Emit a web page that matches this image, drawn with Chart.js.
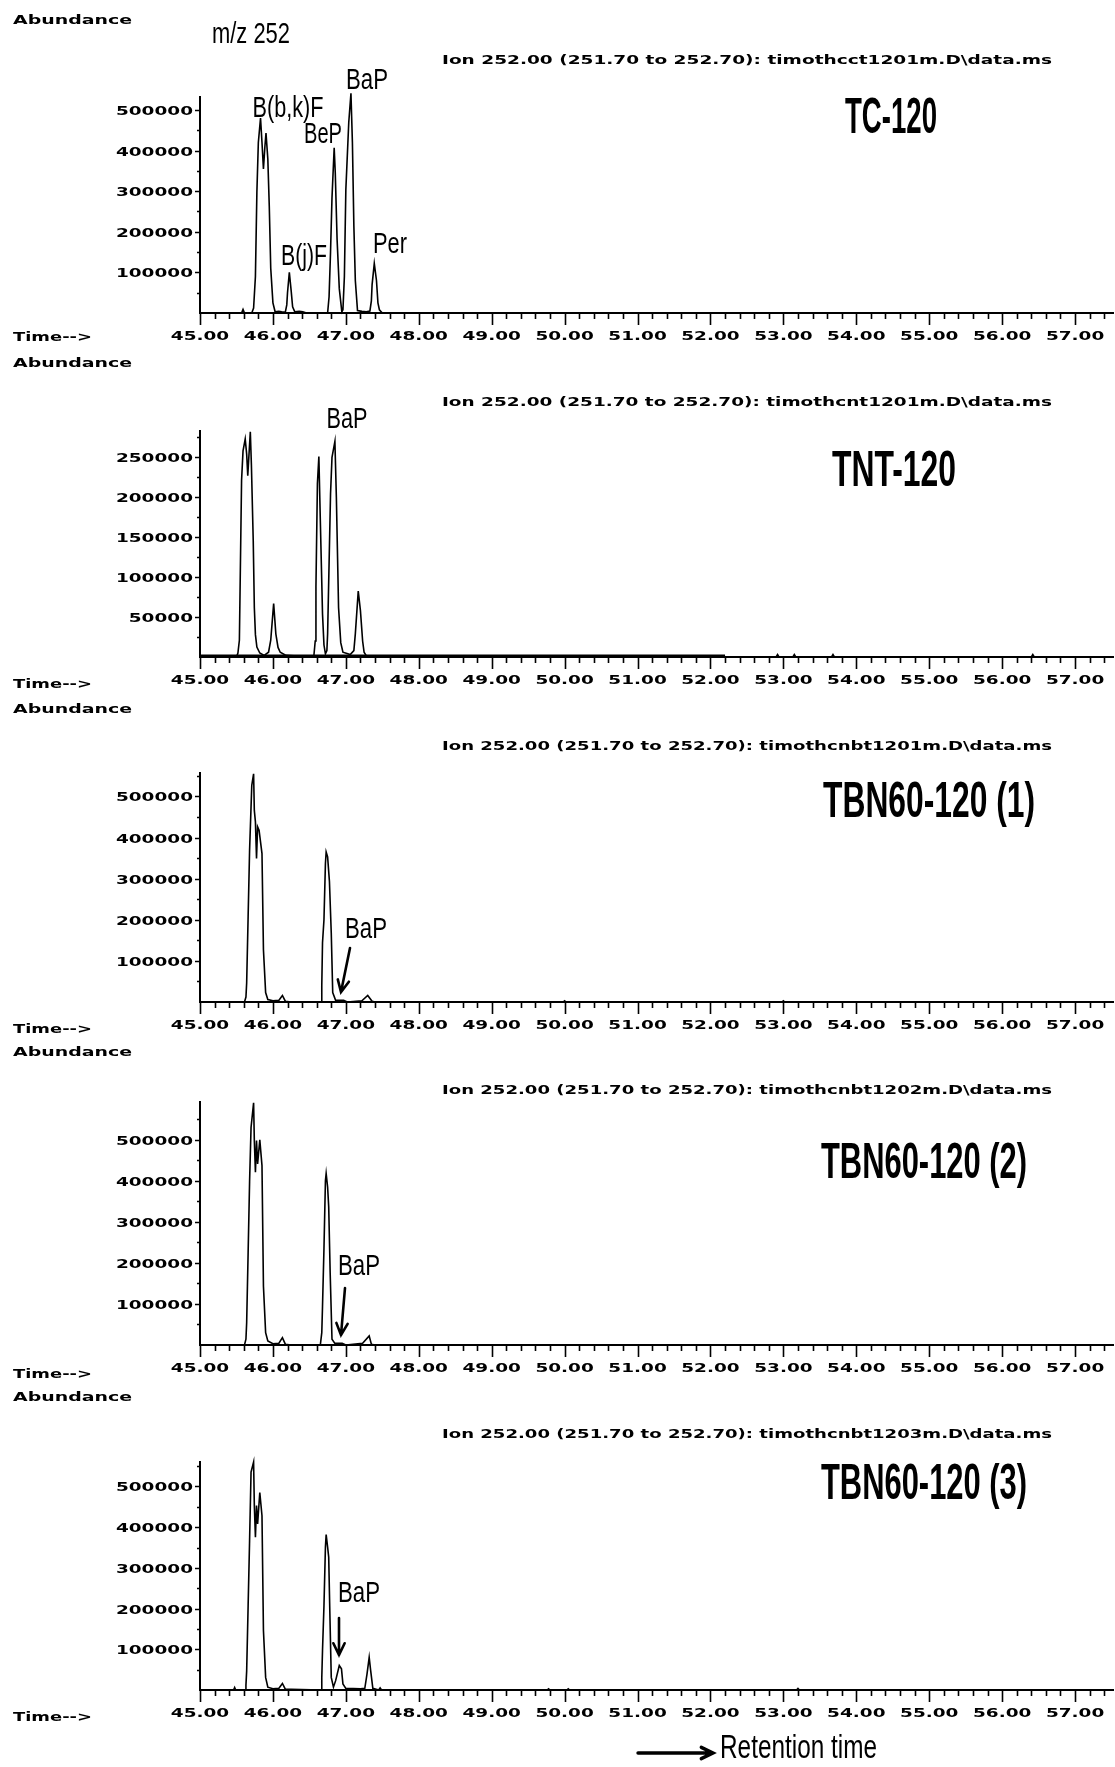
<!DOCTYPE html>
<html>
<head>
<meta charset="utf-8">
<script src="https://cdn.jsdelivr.net/npm/chart.js@4.4.1/dist/chart.umd.min.js"></script>
<style>
  html, body { margin: 0; padding: 0; background: #fff; }
  #page { position: relative; width: 1115px; height: 1767px; overflow: hidden; background: #fff; }
  #page canvas { position: absolute; left: 0; }
  #overlay { top: 0; pointer-events: none; }
</style>
</head>
<body>
<div id="page">
  <canvas id="c0"></canvas>
  <canvas id="c1"></canvas>
  <canvas id="c2"></canvas>
  <canvas id="c3"></canvas>
  <canvas id="c4"></canvas>
  <canvas id="overlay" width="1115" height="1767"></canvas>
</div>
<script>
/* ============================================================
   DATA — ion 252 chromatograms (time in min, abundance)
============================================================ */
const sampleNames = ['TC-120', 'TNT-120', 'TBN60-120 (1)', 'TBN60-120 (2)', 'TBN60-120 (3)'];
const dataFiles = ['timothcct1201m.D', 'timothcnt1201m.D', 'timothcnbt1201m.D', 'timothcnbt1202m.D', 'timothcnbt1203m.D'];

const xTickLabels = ['45.00', '46.00', '47.00', '48.00', '49.00', '50.00', '51.00', '52.00', '53.00', '54.00', '55.00', '56.00', '57.00'];
const yTicksTC  = [100000, 200000, 300000, 400000, 500000];
const yTicksTNT = [50000, 100000, 150000, 200000, 250000];
const yTicksTBN = [100000, 200000, 300000, 400000, 500000];

// TC-120
const timesTC = [45.00, 45.57, 45.59, 45.61, 45.71, 45.735, 45.76, 45.78, 45.80, 45.83, 45.85, 45.87, 45.89, 45.905, 45.93, 45.95, 45.97, 46.00, 46.03, 46.08, 46.12, 46.17,
  46.19, 46.20, 46.225, 46.25, 46.27, 46.30, 46.36, 46.41, 46.46, 46.75, 46.77, 46.79, 46.81, 46.84, 46.855, 46.88, 46.91, 46.945, 46.96, 46.98, 47.00, 47.04, 47.07, 47.09,
  47.11, 47.13, 47.16, 47.22, 47.28, 47.33, 47.35, 47.36, 47.39, 47.42, 47.44, 47.46, 47.50, 57.52];
const abundTC = [0, 0, 9000, 0, 0, 12000, 90000, 297000, 420000, 480000, 420000, 355000, 410000, 443000, 380000, 263000, 110000, 25000, 3000, 4000, 3000, 2000,
  20000, 50000, 100000, 55000, 15000, 3000, 4000, 3000, 0, 0, 40000, 150000, 284000, 407000, 345000, 181000, 60000, 3000, 8000, 90000, 304000, 470000, 541000, 420000,
  214000, 80000, 6000, 4000, 3000, 5000, 30000, 70000, 122000, 80000, 25000, 8000, 0, 0];

// TNT-120
const timesTNT = [45.00, 45.50, 45.52, 45.54, 45.57, 45.59, 45.62, 45.64, 45.655, 45.69, 45.705, 45.73, 45.745, 45.76, 45.78, 45.82, 45.88, 45.94, 45.97, 46.01, 46.04, 46.07, 46.10, 46.18,
  46.56, 46.58, 46.59, 46.61, 46.63, 46.65, 46.68, 46.70, 46.72, 46.74, 46.75, 46.79, 46.81, 46.85, 46.87, 46.90, 46.93, 46.96, 47.06, 47.11, 47.13, 47.17, 47.20, 47.23, 47.25, 47.29,
  52.90, 52.92, 52.94, 53.13, 53.15, 53.17, 53.66, 53.68, 53.70, 56.40, 56.42, 56.44, 57.52];
const abundTNT = [0, 0, 5000, 21000, 221000, 258000, 273000, 254000, 227000, 282000, 240000, 146000, 62000, 28000, 12500, 5000, 2000, 6000, 21000, 67000, 29000, 12000, 6000, 2000,
  0, 20000, 87500, 217000, 251000, 171000, 54000, 15000, 4000, 8000, 29000, 204000, 250000, 270000, 200000, 62000, 18000, 6000, 3000, 8000, 29000, 82500, 58000, 20000, 6000, 0,
  0, 3000, 0, 0, 3000, 0, 0, 3000, 0, 0, 3000, 0, 0];
// dense baseline noise band of TNT-120
const timesTNTNoise = [45.00, 52.20];
const abundTNTNoise = [1200, 1200];

// TBN60-120 (1)
const timesTBN1 = [45.00, 45.61, 45.63, 45.64, 45.66, 45.68, 45.71, 45.735, 45.745, 45.76, 45.775, 45.79, 45.81, 45.85, 45.87, 45.90, 45.93, 46.00, 46.08, 46.13, 46.17,
  46.25, 46.66, 46.67, 46.68, 46.70, 46.72, 46.73, 46.75, 46.775, 46.80, 46.82, 46.86, 46.97, 47.02, 47.22, 47.30, 47.36, 47.40,
  49.98, 50.00, 50.02, 52.98, 53.00, 53.02, 57.52];
const abundTBN1 = [0, 0, 12000, 47000, 208000, 369000, 527000, 555000, 466000, 438000, 349000, 426000, 418000, 361000, 127000, 23000, 6000, 3000, 4000, 16000, 2000,
  0, 0, 40000, 144000, 200000, 337000, 365000, 353000, 293000, 168000, 23000, 4000, 4000, 0, 3000, 16000, 2000, 0,
  0, 3000, 0, 0, 3000, 0, 0];

// TBN60-120 (2)
const timesTBN2 = [45.00, 45.61, 45.63, 45.64, 45.66, 45.68, 45.70, 45.735, 45.745, 45.76, 45.775, 45.79, 45.82, 45.85, 45.87, 45.90, 45.93, 46.00, 46.08, 46.13, 46.17,
  46.25, 46.65, 46.67, 46.68, 46.70, 46.72, 46.73, 46.75, 46.765, 46.785, 46.81, 46.85, 46.95, 47.00, 47.23, 47.32, 47.35, 47.40, 57.52];
const abundTBN2 = [0, 0, 14000, 55000, 225000, 398000, 530000, 590000, 498000, 421000, 498000, 441000, 500000, 437000, 143000, 30000, 10000, 3000, 4000, 18000, 2000,
  0, 0, 30000, 94000, 235000, 400000, 418000, 385000, 336000, 176000, 14000, 4000, 4000, 0, 4000, 22000, 2000, 0, 0];

// TBN60-120 (3)
const timesTBN3 = [45.00, 45.46, 45.475, 45.49, 45.62, 45.63, 45.64, 45.66, 45.68, 45.70, 45.735, 45.745, 45.76, 45.775, 45.79, 45.82, 45.85, 45.87, 45.90, 45.93, 46.00,
  46.08, 46.13, 46.17, 46.25, 46.66, 46.67, 46.68, 46.70, 46.72, 46.73, 46.75, 46.765, 46.78, 46.80, 46.83, 46.86, 46.91, 46.94, 46.96, 47.00, 47.20,
  47.26, 47.29, 47.32, 47.34, 47.37, 47.45, 47.47, 47.49, 49.76, 49.78, 49.80, 50.03, 50.05, 50.07, 53.18, 53.20, 53.22, 57.52];
const abundTBN3 = [0, 0, 6000, 0, 0, 12000, 47000, 207000, 367000, 535000, 560000, 453000, 375000, 453000, 408000, 485000, 428000, 146000, 31000, 7000, 3000,
  4000, 16000, 2000, 2000, 0, 30000, 97000, 207000, 351000, 382000, 351000, 326000, 195000, 31000, 7000, 23000, 60000, 52000, 15000, 4000, 3000,
  4000, 39000, 80000, 48000, 4000, 0, 5000, 0, 0, 3000, 0, 0, 3000, 0, 0, 4000, 0, 0];

/* ============================================================
   LAYOUT
============================================================ */
const CHEM_FONT = 'bold 13px "DejaVu Sans"';
const CHEM_SX = 1.42;
const X_MIN = 45, X_MAX = 57.52;

const panels = [
  { id: 'c0', times: timesTC,   values: abundTC,   yMax: 532000, yTicks: yTicksTC,  top: 97,   base: 313 },
  { id: 'c1', times: timesTNT,  values: abundTNT,  yMax: 283000, yTicks: yTicksTNT, top: 431,  base: 657,
    noiseT: timesTNTNoise, noiseV: abundTNTNoise },
  { id: 'c2', times: timesTBN1, values: abundTBN1, yMax: 557000, yTicks: yTicksTBN, top: 773,  base: 1002 },
  { id: 'c3', times: timesTBN2, values: abundTBN2, yMax: 592000, yTicks: yTicksTBN, top: 1102, base: 1345 },
  { id: 'c4', times: timesTBN3, values: abundTBN3, yMax: 560000, yTicks: yTicksTBN, top: 1462, base: 1690 },
];

// 横に引き伸ばした文字（ChemStation風）
function stretchText(ctx, text, x, y, font, sx, align) {
  ctx.save();
  ctx.font = font;
  ctx.textAlign = align || 'left';
  ctx.textBaseline = 'alphabetic';
  ctx.translate(x, y);
  ctx.scale(sx, 1);
  ctx.fillText(text, 0, 0);
  ctx.restore();
}
function fitText(ctx, text, x, y, font, w, align) {
  ctx.font = font;
  const sx = w / ctx.measureText(text).width;
  stretchText(ctx, text, x, y, font, sx, align);
}

// ── 目盛り（主・副）と目盛りラベル ──
const chemAxes = (p) => ({
  id: 'chemAxes',
  afterDraw(chart) {
    const { ctx, chartArea: ca, scales: { x: xs, y: ys } } = chart;
    ctx.save();
    ctx.strokeStyle = '#000';
    ctx.fillStyle = '#000';
    ctx.lineWidth = 1.6;
    ctx.beginPath();
    for (let k = 0; k <= 62; k++) {
      const v = X_MIN + k * 0.2;
      const px = Math.round(xs.getPixelForValue(v)) + 0.5;
      const len = k % 5 === 0 ? 12 : 6;
      ctx.moveTo(px, ca.bottom);
      ctx.lineTo(px, ca.bottom + len);
    }
    const step = p.yTicks[1] - p.yTicks[0];
    const yMarks = [];
    p.yTicks.forEach(v => { yMarks.push([v, 5]); yMarks.push([v - step / 2, 3]); });
    const last = p.yTicks[p.yTicks.length - 1] + step / 2;
    if (last < p.yMax) yMarks.push([last, 3]);
    yMarks.forEach(([v, len]) => {
      const py = Math.round(ys.getPixelForValue(v)) + 0.5;
      ctx.moveTo(ca.left - len, py);
      ctx.lineTo(ca.left, py);
    });
    ctx.stroke();

    xTickLabels.forEach(lab => {
      const px = xs.getPixelForValue(parseFloat(lab));
      stretchText(ctx, lab, px, ca.bottom + 27, CHEM_FONT, CHEM_SX, 'center');
    });
    p.yTicks.forEach(v => {
      const py = ys.getPixelForValue(v);
      stretchText(ctx, String(v), ca.left - 7, py + 5, CHEM_FONT, CHEM_SX, 'right');
    });
    ctx.restore();
  }
});

const PAD_TOP = 14, X_H = 44;
panels.forEach(p => {
  const cv = document.getElementById(p.id);
  cv.width = 1115;
  cv.height = p.base - p.top + PAD_TOP + X_H;
  cv.style.top = (p.top - PAD_TOP) + 'px';
  const datasets = [{
    data: p.times.map((t, i) => ({ x: t, y: p.values[i] })),
    borderColor: '#000', borderWidth: 1.6, pointRadius: 0, tension: 0, fill: false, clip: false
  }];
  if (p.noiseT) {
    datasets.push({
      data: p.noiseT.map((t, i) => ({ x: t, y: p.noiseV[i] })),
      borderColor: '#000', borderWidth: 3.2, pointRadius: 0, tension: 0, fill: false
    });
  }
  const axisOpts = {
    grid: { display: true, drawOnChartArea: false, drawTicks: false, color: 'rgba(0,0,0,0)' },
    border: { display: true, color: '#000', width: 2 },
    ticks: { display: false }
  };
  new Chart(cv, {
    type: 'line',
    data: { datasets },
    options: {
      responsive: false, animation: false, devicePixelRatio: 1,
      layout: { padding: { top: PAD_TOP, left: 0, right: 2, bottom: 0 } },
      plugins: { legend: { display: false }, tooltip: { enabled: false } },
      scales: {
        x: { type: 'linear', min: X_MIN, max: X_MAX, afterFit: s => { s.height = X_H; }, ...axisOpts },
        y: { type: 'linear', min: 0, max: p.yMax, afterFit: s => { s.width = 200; }, ...axisOpts }
      }
    },
    plugins: [chemAxes(p)]
  });
});

/* ============================================================
   OVERLAY TEXT — 見出し・ピーク名・矢印
============================================================ */
const ov = document.getElementById('overlay').getContext('2d');
ov.fillStyle = '#000';
ov.strokeStyle = '#000';

const abundanceY = [19, 362, 708, 1051, 1396];
const timeY = [336, 683, 1028, 1373, 1716];
const headerY = [59, 401, 745, 1089, 1433];
const titlePos = [[891, 115, 92], [894, 468, 124], [929, 799, 212], [924, 1160, 206], [924, 1481, 206]];

for (let i = 0; i < 5; i++) {
  fitText(ov, 'Abundance', 13, abundanceY[i] + 5, CHEM_FONT, 119);
  fitText(ov, 'Time-->', 13, timeY[i] + 5, CHEM_FONT, 79);
  fitText(ov, 'Ion 252.00 (251.70 to 252.70): ' + dataFiles[i] + '\\data.ms', 442, headerY[i] + 5, CHEM_FONT, 610);
  fitText(ov, sampleNames[i], titlePos[i][0], titlePos[i][1] + 18, 'bold 50px "Liberation Sans"', titlePos[i][2], 'center');
}

const LABEL_FONT = '30px "Liberation Sans"';
const peakLabels = [
  ['m/z 252', 251, 33, 78],
  ['B(b,k)F', 288, 107, 71],
  ['BeP', 323, 133, 38],
  ['BaP', 367, 79, 42],
  ['B(j)F', 304, 255, 46],
  ['Per', 390, 243, 34],
  ['BaP', 347, 418, 41],
  ['BaP', 366, 928, 42],
  ['BaP', 359, 1265, 42],
  ['BaP', 359, 1592, 42],
];
peakLabels.forEach(([t, cx, cy, w]) => fitText(ov, t, cx, cy + 10, LABEL_FONT, w, 'center'));

function arrow(x1, y1, x2, y2, lw, head) {
  const a = Math.atan2(y2 - y1, x2 - x1);
  ov.save();
  ov.lineWidth = lw;
  ov.lineCap = 'round';
  ov.beginPath();
  ov.moveTo(x1, y1);
  ov.lineTo(x2, y2);
  ov.moveTo(x2 - head * Math.cos(a - 0.45), y2 - head * Math.sin(a - 0.45));
  ov.lineTo(x2, y2);
  ov.lineTo(x2 - head * Math.cos(a + 0.45), y2 - head * Math.sin(a + 0.45));
  ov.stroke();
  ov.restore();
}
arrow(350, 948, 341, 992, 2.6, 13);
arrow(345, 1288, 341, 1335, 2.6, 13);
arrow(339, 1618, 339, 1655, 2.6, 13);

// ── Retention time ──
arrow(638, 1753, 713, 1753, 3.4, 13);
fitText(ov, 'Retention time', 720, 1758, '34px "Liberation Sans"', 157);
</script>
</body>
</html>
